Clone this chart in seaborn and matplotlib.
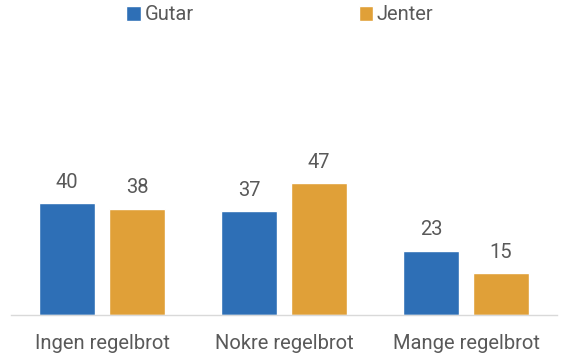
import matplotlib
matplotlib.use("Agg")
import matplotlib.pyplot as plt
import seaborn as sns
import pandas as pd

categories = ["Ingen regelbrot", "Nokre regelbrot", "Mange regelbrot"]
series = ["Gutar", "Jenter"]
gutar = [40, 37, 23]
jenter = [38, 47, 15]
colors = ["#2E6FB6", "#E0A038"]

df = pd.DataFrame({
    "kategori": categories * 2,
    "kjonn": [series[0]] * 3 + [series[1]] * 3,
    "verdi": gutar + jenter,
})

sns.set_theme(style="white")
plt.rcParams["font.family"] = ["Roboto", "DejaVu Sans"]
text_color = "#595959"
fs = 14.5

fig = plt.figure(figsize=(5.63, 3.56), dpi=100)
ax = fig.add_axes([11 / 563, 41 / 356, 546 / 563, 280 / 356])

sns.barplot(data=df, x="kategori", y="verdi", hue="kjonn", order=categories,
            hue_order=series, palette=colors, width=0.77, gap=0.21,
            saturation=1, ax=ax, legend=True)

for cont in ax.containers:
    ax.bar_label(cont, fmt="%d", padding=8, fontsize=fs, color=text_color)

ax.set_ylim(0, 100)
ax.set_xlim(-0.5, 2.5)
ax.set_xlabel("")
ax.set_ylabel("")
ax.set_yticks([])
for s in ["top", "left", "right"]:
    ax.spines[s].set_visible(False)
ax.spines["bottom"].set_color("#D9D9D9")
ax.spines["bottom"].set_linewidth(1.0)
ax.tick_params(axis="x", length=0, pad=14, labelsize=fs, labelcolor=text_color)

handles, labels = ax.get_legend_handles_labels()
ax.legend(handles, labels, loc="center", bbox_to_anchor=(280 / 563, 1 - 15 / 356),
          bbox_transform=fig.transFigure, ncol=2, frameon=False, fontsize=fs,
          labelcolor=text_color, handlelength=0.7, handleheight=0.7,
          handletextpad=0.2, columnspacing=8.2)

fig.savefig("out.png", dpi=100)
